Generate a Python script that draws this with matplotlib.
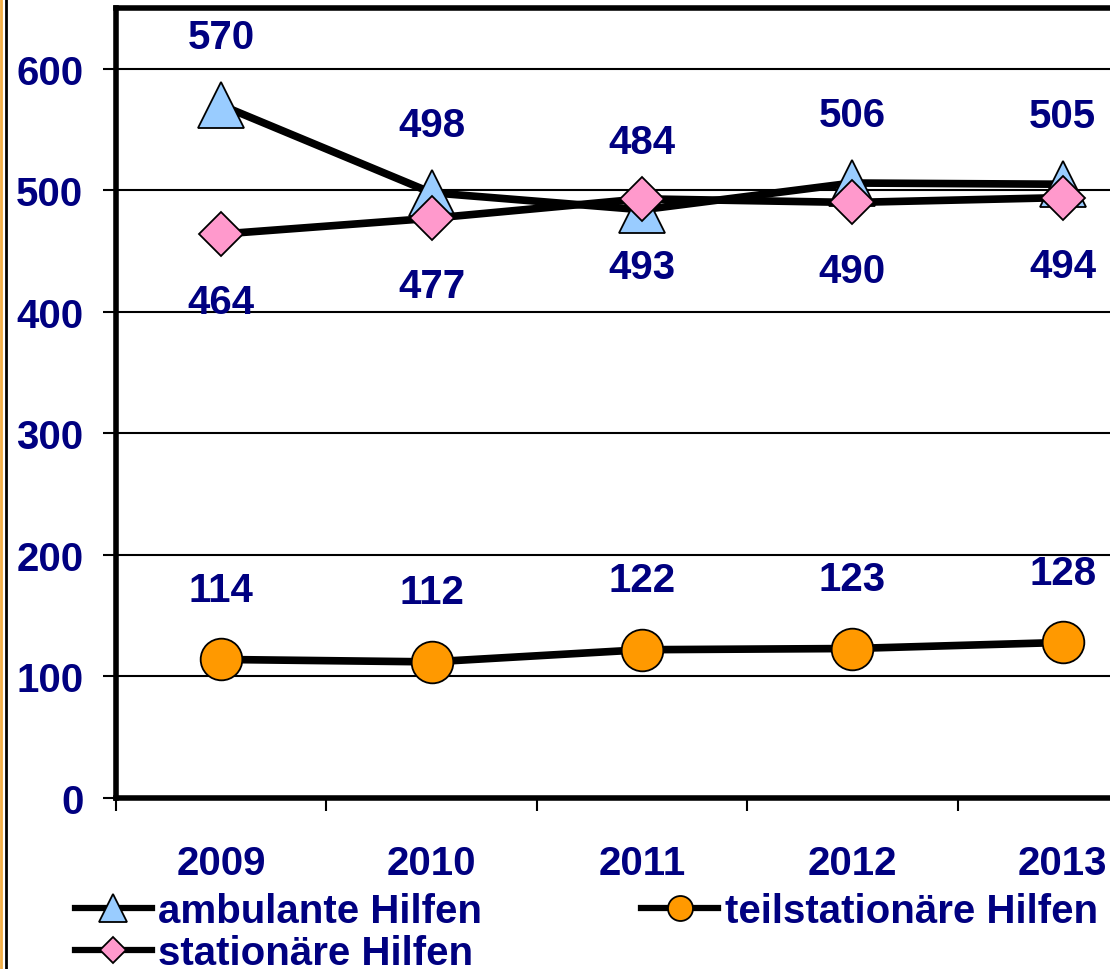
import matplotlib
matplotlib.use("Agg")
import matplotlib.pyplot as plt
from matplotlib.lines import Line2D

years = ["2009", "2010", "2011", "2012", "2013"]
ambulante = [570, 498, 484, 506, 505]
stationaere = [464, 477, 493, 490, 494]
teilstationaere = [114, 112, 122, 123, 128]
y_ticks = [0, 100, 200, 300, 400, 500, 600]

NAVY = "#000080"
FS = 29
plt.rcParams['font.family'] = ['Liberation Sans', 'DejaVu Sans']
plt.rcParams['font.weight'] = 'bold'

W, H = 1110, 970
fig = plt.figure(figsize=(W / 100, H / 100), dpi=100)
fig.patch.set_facecolor("white")

# axes placement in pixel coordinates
left, right, top, bottom = 116, 1168, 9, 799
ax = fig.add_axes([left / W, 1 - bottom / H, (right - left) / W, (bottom - top) / H])

x = list(range(len(years)))
lw = 5.5
l1, = ax.plot(x, ambulante, color="black", lw=lw, marker="^", ms=33,
              mfc="#99CCFF", mec="black", mew=1.3, zorder=4, label="ambulante Hilfen")
l2, = ax.plot(x, stationaere, color="black", lw=lw, marker="D", ms=22,
              mfc="#FF99CC", mec="black", mew=1.3, zorder=5, label="stationäre Hilfen")
l3, = ax.plot(x, teilstationaere, color="black", lw=lw, marker="o", ms=30,
              mfc="#FF9900", mec="black", mew=1.3, zorder=4, label="teilstationäre Hilfen")

for xi, v in zip(x, ambulante):
    ax.annotate(str(v), (xi, v), xytext=(0, 49), textcoords="offset points",
                ha="center", va="center", color=NAVY, fontsize=FS, fontweight="bold")
for xi, v in zip(x, stationaere):
    ax.annotate(str(v), (xi, v), xytext=(0, -49), textcoords="offset points",
                ha="center", va="center", color=NAVY, fontsize=FS, fontweight="bold")
for xi, v in zip(x, teilstationaere):
    ax.annotate(str(v), (xi, v), xytext=(0, 50), textcoords="offset points",
                ha="center", va="center", color=NAVY, fontsize=FS, fontweight="bold")

ax.set_xlim(-0.5, 4.5)
ax.set_ylim(0, 650)
ax.set_yticks(y_ticks)
ax.set_yticklabels([str(t) for t in y_ticks], color=NAVY, fontsize=FS, fontweight="bold")
ax.tick_params(axis="y", direction="out", length=9.5, width=1.5, pad=14, colors="black",
               labelcolor=NAVY)
ax.set_xticks([i - 0.5 for i in range(len(years) + 1)])
ax.set_xticklabels([])
ax.set_xticks(x, minor=True)
ax.set_xticklabels(years, minor=True, color=NAVY, fontsize=FS, fontweight="bold")
ax.tick_params(axis="x", which="major", direction="out", length=9.5, width=1.5)
ax.tick_params(axis="x", which="minor", length=0, pad=33)

ax.grid(axis="y", color="black", lw=1.5, zorder=1)
ax.set_axisbelow(True)
for s in ["left", "bottom", "top"]:
    ax.spines[s].set_linewidth(4)
    ax.spines[s].set_color("black")
ax.spines["right"].set_visible(False)

leg = fig.legend(handles=[l1, l2, l3], loc="upper left",
                 bbox_to_anchor=(75 / W, 1 - 893 / H), ncol=2, frameon=False,
                 fontsize=FS, markerscale=0.6, handlelength=1.9, handletextpad=0.17,
                 columnspacing=3.95, labelspacing=0.1, borderpad=0, borderaxespad=0)
for t in leg.get_texts():
    t.set_color(NAVY)
    t.set_fontweight("bold")
for h in leg.legend_handles:
    h.set_linewidth(4.5)

# outer frame on the left edge
fig.add_artist(Line2D([1.2 / W, 1.2 / W], [0, 1], transform=fig.transFigure,
                      color="#F2AE45", lw=2))
fig.add_artist(Line2D([6 / W, 6 / W], [0, 1], transform=fig.transFigure,
                      color="black", lw=2))

fig.savefig("out.png", dpi=100)
